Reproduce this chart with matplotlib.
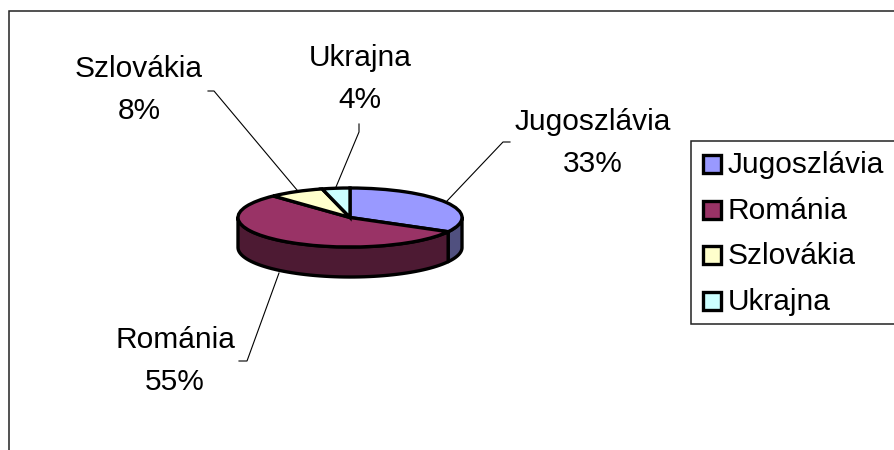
import numpy as np
import matplotlib
matplotlib.use("Agg")
import matplotlib.pyplot as plt
from matplotlib.patches import Rectangle

plt.rcParams['font.family'] = ['Liberation Sans', 'DejaVu Sans']

categories = ['Jugoszlávia', 'Románia', 'Szlovákia', 'Ukrajna']
values = [33, 55, 8, 4]
colors = ['#9999ff', '#993366', '#ffffcc', '#ccffff']
side_colors = ['#50507f', '#4d1a33', '#7f7f66', '#667f7f']

W, H = 894, 450
fig = plt.figure(figsize=(W / 100, H / 100), dpi=100)

# page layer in pixels, for frame, legend and labels
page = fig.add_axes([0, 0, 1, 1])
page.set_xlim(0, W)
page.set_ylim(H, 0)
page.axis('off')

# frame is cut off on the right and at the bottom
page.plot([9, 9, W], [H, 11, 11], color='#222222', lw=1.1, solid_joinstyle='miter')

# pie lives in its own axes, so it stays an ellipse
cx, cy, rx, ry = 350, 217.5, 112, 29.5
depth = 30 / ry
pie_ax = fig.add_axes([(cx - rx) / W, 1 - (cy + ry) / H, 2 * rx / W, 2 * ry / H])
pie_ax.set_zorder(2)

# side wall first, only the front half is visible
angles = 90 - np.cumsum([0] + values) / sum(values) * 360
for i, cat in enumerate(categories):
    a0, a1 = angles[i], angles[i + 1]
    a0, a1 = min(a0, 0), max(a1, -180)
    if a1 >= a0:
        continue
    t = np.radians(np.linspace(a0, a1, 60))
    x = np.cos(t)
    y = np.sin(t)
    pie_ax.fill(np.r_[x, x[::-1]], np.r_[y, y[::-1] - depth], facecolor=side_colors[i],
                edgecolor='black', lw=2.4, clip_on=False, joinstyle='round')

wedges, _ = pie_ax.pie(values, colors=colors, startangle=90, counterclock=False, radius=1,
                       wedgeprops=dict(edgecolor='black', linewidth=2.4, clip_on=False))
pie_ax.set_aspect('auto')
pie_ax.set_xlim(-1, 1)
pie_ax.set_ylim(-1, 1)
pie_ax.axis('off')

# leader lines
leaders = [
    [(447, 201), (503, 142), (510, 142)],
    [(279, 273), (247, 361), (239, 361)],
    [(297, 190), (214, 91), (208, 91)],
    [(336, 187), (359, 132), (359, 124)],
]
for pts in leaders:
    page.plot(*zip(*pts), color='black', lw=0.8)

label_pos = [(593, 143), (175, 361), (139, 90), (360, 79)]
for cat, v, (x, y) in zip(categories, values, label_pos):
    page.text(x, y, f"{cat}\n{v}%", ha='center', va='center', fontsize=21.5,
              linespacing=1.6, color='black')

# legend
page.add_patch(Rectangle((691, 141), 210, 183, facecolor='white', edgecolor='#222222', lw=1.1, zorder=3))
legend_y = [164, 210, 255, 301]
for cat, col, y in zip(categories, colors, legend_y):
    page.add_patch(Rectangle((702.5, y - 9), 18, 18, facecolor=col, edgecolor='black', lw=2.4, zorder=4))
    page.text(728, y + 1, cat, ha='left', va='center', fontsize=21.5, color='black', zorder=4)

page.set_zorder(3)
page.patch.set_alpha(0)
fig.savefig('out.png', dpi=100)
